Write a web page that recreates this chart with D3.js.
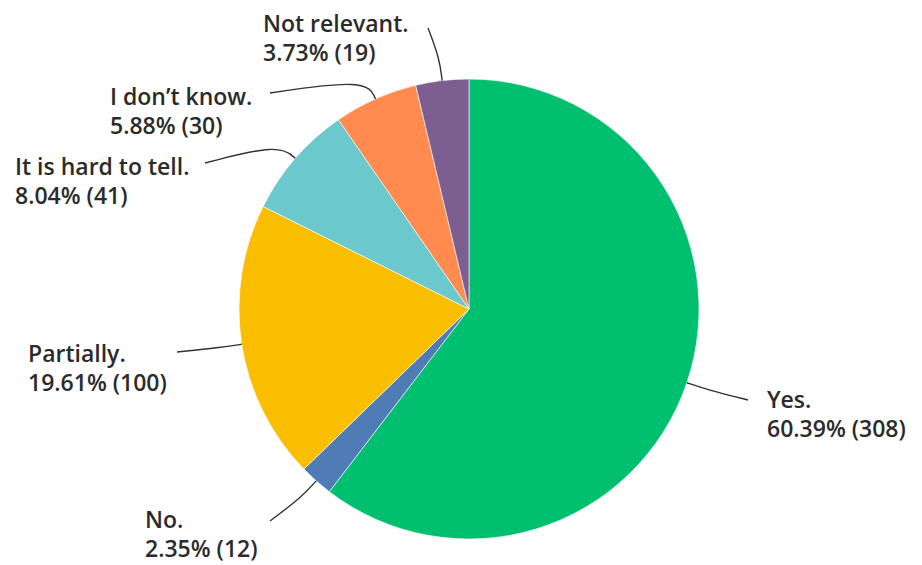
<!DOCTYPE html>
<html>
<head>
<meta charset="utf-8">
<script src="https://cdn.jsdelivr.net/npm/d3@7"></script>
<style>
  body { margin: 0; background: #fff; }
  text { font-family: "Open Sans", sans-serif; font-weight: 600; fill: #2b2b2b; }
</style>
</head>
<body>
<div id="chart"></div>
<script>
// survey answers, clockwise from 12 o'clock
var answers = ["Yes.", "No.", "Partially.", "It is hard to tell.", "I don\u2019t know.", "Not relevant."];
var counts  = [308, 12, 100, 41, 30, 19];
var shares  = ["60.39%", "2.35%", "19.61%", "8.04%", "5.88%", "3.73%"];
var colours = ["#00bf6f", "#507cb6", "#f9be00", "#6bc8cd", "#ff8b4f", "#7d5e90"];

// where each label sits (x, first baseline) and where its leader line ends
var labelPos = [
  { x: 767, y: 408, lx: 748, ly: 400 },
  { x: 145, y: 528, lx: 270, ly: 521 },
  { x: 28,  y: 362, lx: 177, ly: 352 },
  { x: 15,  y: 175, lx: 205, ly: 163 },
  { x: 110, y: 105, lx: 270, ly: 93  },
  { x: 263, y: 32,  lx: 428, ly: 28  }
];

var width = 922, height = 565;
var cx = 469, cy = 309, radius = 230;

var svg = d3.select("#chart")
  .append("svg")
    .attr("width", width)
    .attr("height", height);

var g = svg.append("g")
  .attr("transform", "translate(" + cx + "," + cy + ")");

var pie = d3.pie().sort(null).value(function(d) { return d; });
var arcs = pie(counts);

var arc = d3.arc().innerRadius(0).outerRadius(radius);

g.selectAll("path.slice")
  .data(arcs)
  .enter()
  .append("path")
    .attr("class", "slice")
    .attr("d", arc)
    .attr("fill", function(d, i) { return colours[i]; })
    .attr("stroke", "#fff")
    .attr("stroke-width", 0.6);

// leader lines: from slice edge, out a little, then over to the label
var edgeArc = d3.arc().innerRadius(radius).outerRadius(radius);
var elbowArc = d3.arc().innerRadius(radius + 22).outerRadius(radius + 22);
var lineGen = d3.line().curve(d3.curveBasis);

g.selectAll("path.leader")
  .data(arcs)
  .enter()
  .append("path")
    .attr("class", "leader")
    .attr("fill", "none")
    .attr("stroke", "#333")
    .attr("stroke-width", 1.4)
    .attr("d", function(d, i) {
      var p0 = edgeArc.centroid(d);
      var p1 = elbowArc.centroid(d);
      var p2 = [labelPos[i].lx - cx, labelPos[i].ly - cy];
      return lineGen([p0, p1, p2]);
    });

// labels
var labels = svg.selectAll("text.label")
  .data(answers)
  .enter()
  .append("text")
    .attr("class", "label")
    .attr("font-size", "23px");

labels.append("tspan")
  .attr("x", function(d, i) { return labelPos[i].x; })
  .attr("y", function(d, i) { return labelPos[i].y; })
  .text(function(d) { return d; });

labels.append("tspan")
  .attr("x", function(d, i) { return labelPos[i].x; })
  .attr("y", function(d, i) { return labelPos[i].y + 29; })
  .text(function(d, i) { return shares[i] + " (" + counts[i] + ")"; });
</script>
</body>
</html>
